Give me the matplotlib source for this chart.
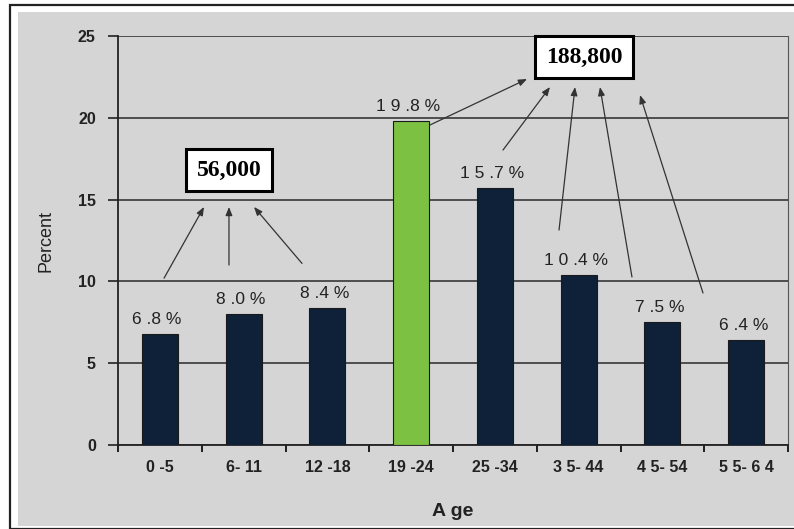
import matplotlib
matplotlib.use("Agg")
import matplotlib.pyplot as plt
from matplotlib.patches import Rectangle

ages = ["0 -5", "6- 11", "12 -18", "19 -24", "25 -34", "3 5- 44", "4 5- 54", "5 5- 6 4"]
percent = [6.8, 8.0, 8.4, 19.8, 15.7, 10.4, 7.5, 6.4]
labels = ["6 .8 %", "8 .0 %", "8 .4 %", "1 9 .8 %", "1 5 .7 %", "1 0 .4 %", "7 .5 %", "6 .4 %"]
highlight = 3

navy = "#0e2139"
green = "#7cc142"
grey = "#d5d5d5"

plt.rcParams["font.family"] = ["Liberation Sans", "DejaVu Sans"]

fig = plt.figure(figsize=(7.94, 5.29), dpi=100)
fig.patch.set_facecolor("white")
# outer frame of the scanned chart
fig.patches.append(Rectangle((10 / 794, 0), 1, 1 - 5 / 529, transform=fig.transFigure,
                             fill=False, edgecolor="#222222", lw=1.6, zorder=-10))
fig.patches.append(Rectangle((18 / 794, 3 / 529), 1, 1 - 15 / 529, transform=fig.transFigure,
                             facecolor=grey, edgecolor="none", zorder=-10))

ax = fig.add_axes([118 / 794, 84 / 529, 670 / 794, 409 / 529])
ax.set_facecolor(grey)
ax.set_zorder(5)

x = list(range(len(ages)))
colors = [green if i == highlight else navy for i in x]
bars = ax.bar(x, percent, width=0.43, color=colors, edgecolor="#1a1a1a", lw=0.8, zorder=3)

for i, (v, lab) in enumerate(zip(percent, labels)):
    ax.annotate(lab, (i, v), xytext=(-2, 5), textcoords="offset points",
                ha="center", va="bottom", fontsize=12.5, color="#222222")

ax.set_xlim(-0.5, 7.5)
ax.set_ylim(0, 25)
ax.set_yticks([0, 5, 10, 15, 20, 25])
ax.yaxis.grid(True, color="#2a2a2a", lw=1.1, zorder=1)
ax.set_axisbelow(True)

ax.set_xticks(x)
ax.set_xticklabels(ages, fontweight="bold", fontsize=11.5)
ax.set_xticks([i - 0.5 for i in range(len(ages) + 1)], minor=True)
ax.tick_params(axis="x", which="major", length=0, pad=11, colors="#222222")
ax.tick_params(axis="x", which="minor", length=5, width=1.2, direction="out")
ax.tick_params(axis="y", length=7, width=1.2, direction="out", pad=9, colors="#222222")
for t in ax.get_yticklabels():
    t.set_fontweight("bold")
    t.set_fontsize(11.5)

for s in ["left", "bottom"]:
    ax.spines[s].set_color("#222222")
    ax.spines[s].set_linewidth(1.3)
ax.spines["right"].set_color("#555555")
ax.spines["top"].set_visible(False)

ax.set_xlabel("A ge", fontsize=14, fontweight="bold", labelpad=20, color="#222222")
ax.set_ylabel("Percent", fontsize=13, labelpad=17, color="#222222")

box = dict(boxstyle="square,pad=0.45", facecolor="white", edgecolor="black", lw=2.2)
ax.text(0.825, 16.8, "56,000", ha="center", va="center", fontsize=17,
        fontweight="bold", family=["Liberation Serif"], bbox=box, zorder=5)
ax.text(5.064, 23.7, "188,800", ha="center", va="center", fontsize=17,
        fontweight="bold", family=["Liberation Serif"], bbox=box, zorder=5)

arrow = dict(arrowstyle="-|>,head_length=0.5,head_width=0.2", color="#333333", lw=0.9,
             shrinkA=0, shrinkB=0)
small_arrows = [((0.05, 10.2), (0.527, 14.55)),
                ((0.825, 11.0), (0.825, 14.55)),
                ((1.697, 11.1), (1.124, 14.55))]
big_arrows = [((3.225, 19.56), (4.384, 22.37)),
              ((4.097, 18.03), (4.658, 21.88)),
              ((4.766, 13.14), (4.957, 21.88)),
              ((5.637, 10.27), (5.255, 21.88)),
              ((6.485, 9.29), (5.733, 21.39))]
for start, end in small_arrows + big_arrows:
    ax.annotate("", xy=end, xytext=start, arrowprops=arrow, zorder=4)

fig.savefig("out.png", dpi=100, facecolor=fig.get_facecolor())
